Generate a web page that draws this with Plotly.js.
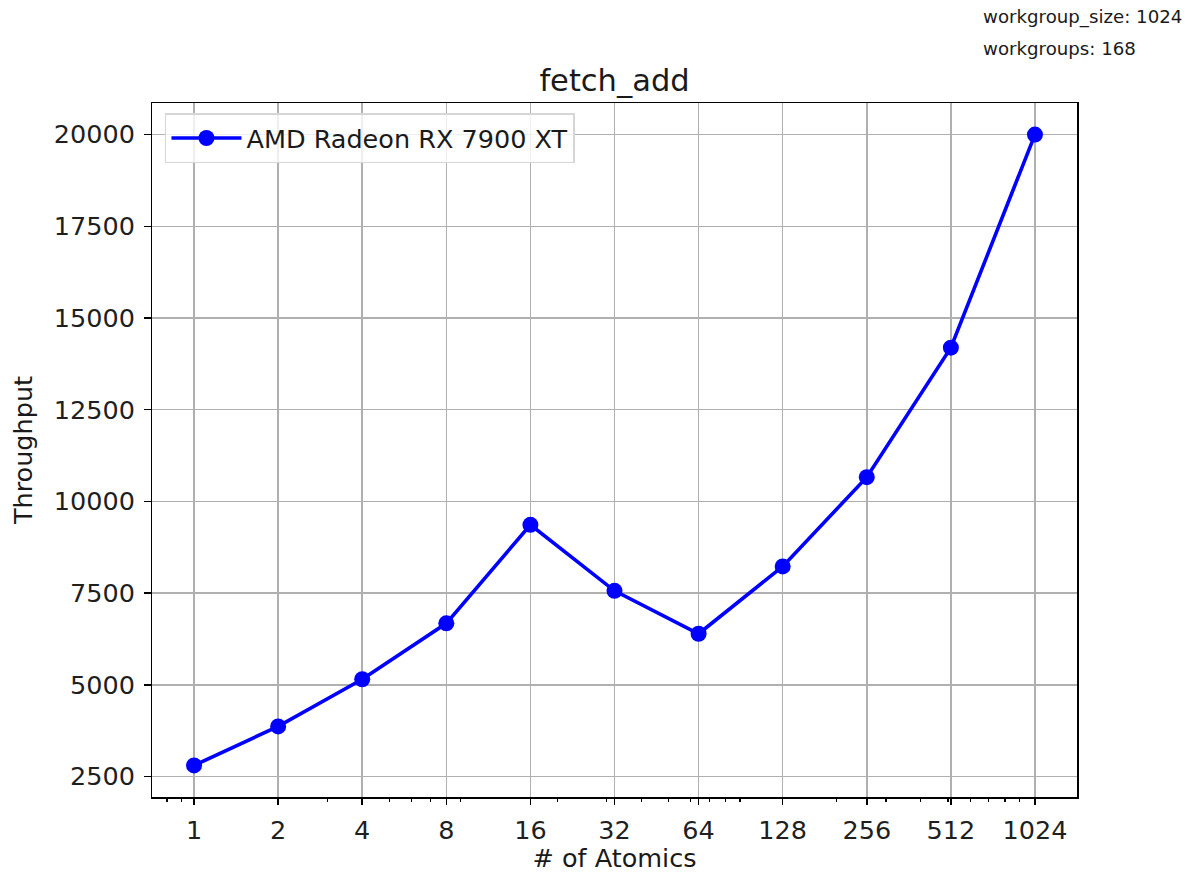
<!DOCTYPE html>
<html>
<head>
<meta charset="utf-8">
<script src="https://cdn.plot.ly/plotly-3.0.1.min.js"></script>
<style>
  html, body { margin: 0; padding: 0; background: #ffffff; }
  #chart { width: 1185px; height: 873px; }
</style>
</head>
<body>
<div id="chart"></div>
<script>
// Benchmark results: fetch_add throughput vs. number of atomics
const atomics = [1, 2, 4, 8, 16, 32, 64, 128, 256, 512, 1024];
const throughput = [2800, 3865, 5150, 6675, 9360, 7560, 6390, 8225, 10660, 14190, 20000];
const seriesName = 'AMD Radeon RX 7900 XT';
const tickLabels = ['1', '2', '4', '8', '16', '32', '64', '128', '256', '512', '1024'];
const yTicks = [2500, 5000, 7500, 10000, 12500, 15000, 17500, 20000];
const infoLines = ['workgroup_size: 1024', 'workgroups: 168'];
// log-axis minor ticks (2..9 x 10^n)
const minorTicks = [0.8, 0.9, 2, 3, 4, 5, 6, 7, 8, 9, 20, 30, 40, 50, 60, 70, 80, 90,
                    200, 300, 400, 500, 600, 700, 800, 900];

const FONT = 'DejaVu Sans, Liberation Sans, sans-serif';

// 5% padding on each side, like the default plotting margins
const lx = atomics.map(v => Math.log10(v));
const lxMin = Math.min(...lx), lxMax = Math.max(...lx);
const xPad = 0.05 * (lxMax - lxMin);
const yMin = Math.min(...throughput), yMax = Math.max(...throughput);
const yPad = 0.05 * (yMax - yMin);

const trace = {
  x: atomics,
  y: throughput,
  type: 'scatter',
  mode: 'lines+markers',
  name: seriesName,
  line: { color: '#0000ff', width: 3.6 },
  marker: { color: '#0000ff', size: 16 }
};

const axisCommon = {
  showline: true, mirror: true, linecolor: '#000000', linewidth: 1.5,
  showgrid: true, gridcolor: '#b0b0b0', gridwidth: 1.5,
  zeroline: false,
  ticks: 'outside', ticklen: 6.5, tickwidth: 1.5, tickcolor: '#000000',
  tickfont: { family: FONT, size: 25.5, color: '#1f1f1f' }
};

const layout = {
  width: 1185, height: 873,
  paper_bgcolor: '#ffffff', plot_bgcolor: '#ffffff',
  margin: { l: 152, r: 108, t: 103, b: 76 },
  font: { family: FONT, color: '#1f1f1f' },
  title: {
    text: 'fetch_add',
    font: { family: FONT, size: 30.5, color: '#1a1a1a' },
    xref: 'paper', x: 0.5, xanchor: 'center',
    yref: 'paper', y: 1, yanchor: 'bottom',
    pad: { b: 12 }
  },
  xaxis: Object.assign({}, axisCommon, {
    type: 'log',
    range: [lxMin - xPad, lxMax + xPad],
    tickmode: 'array', tickvals: atomics, ticktext: tickLabels,
    ticklabelstandoff: 3,
    minor: {
      tickmode: 'array', tickvals: minorTicks,
      ticks: 'outside', ticklen: 3.7, tickwidth: 1.1, tickcolor: '#000000',
      showgrid: false
    },
    title: { text: '# of Atomics', font: { family: FONT, size: 25.5, color: '#1a1a1a' }, standoff: 9 }
  }),
  yaxis: Object.assign({}, axisCommon, {
    range: [yMin - yPad, yMax + yPad],
    tickmode: 'array', tickvals: yTicks, ticktext: yTicks.map(String),
    ticklabelstandoff: 4,
    title: { text: 'Throughput', font: { family: FONT, size: 25.5, color: '#1a1a1a' }, standoff: 14 }
  }),
  showlegend: true,
  legend: {
    x: 0.014, y: 0.985, xanchor: 'left', yanchor: 'top',
    bgcolor: 'rgba(255,255,255,0.8)', bordercolor: '#d6d6d6', borderwidth: 1.5,
    font: { family: FONT, size: 25.5, color: '#1a1a1a' },
    itemwidth: 70
  },
  annotations: infoLines.map((t, i) => ({
    text: t, showarrow: false,
    xref: 'paper', yref: 'paper',
    x: 0.896, xanchor: 'left',
    y: i === 0 ? 1.1245 : 1.0784, yanchor: 'middle',
    font: { family: FONT, size: 18.2, color: '#1a1a1a' }
  }))
};

Plotly.newPlot('chart', [trace], layout, { displayModeBar: false, staticPlot: true });
</script>
</body>
</html>
